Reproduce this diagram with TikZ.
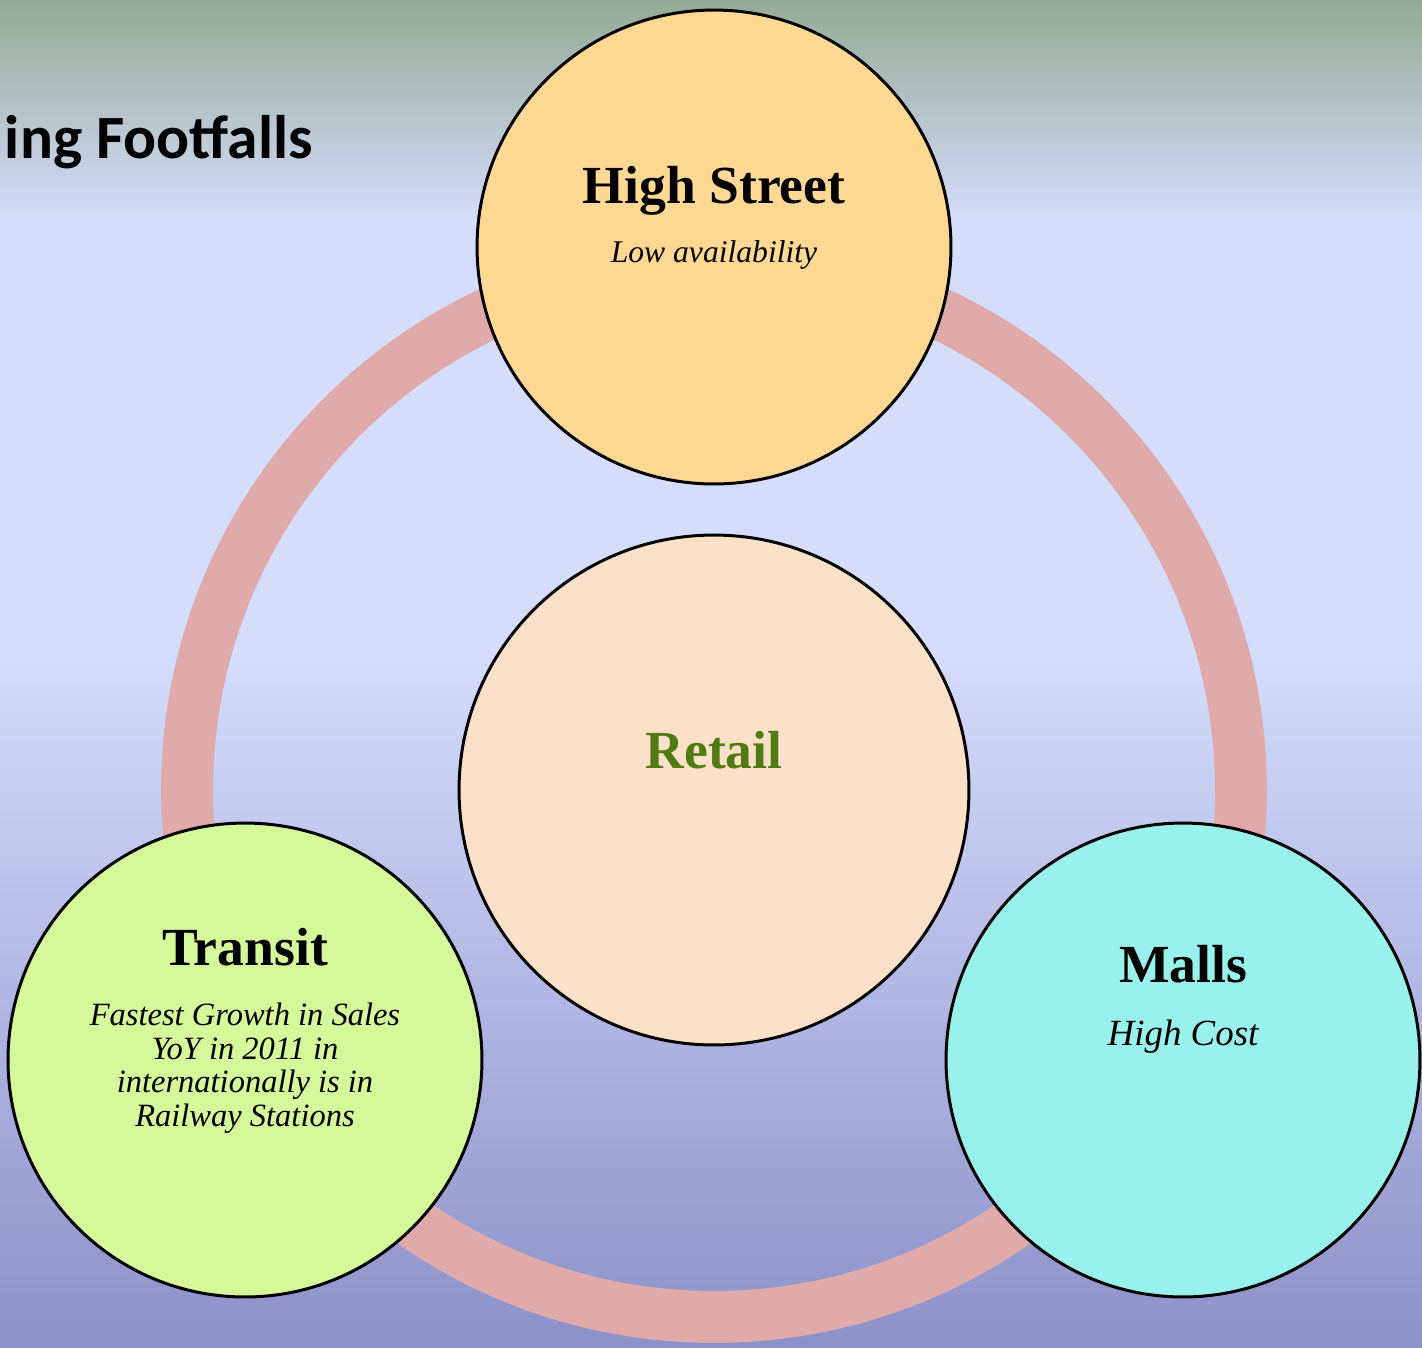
\documentclass[tikz,border=0pt]{standalone}
\usepackage{fontspec}
\setmainfont{Liberation Serif}
\newfontfamily\calibri{Carlito}
\usepackage{tikz}
\usetikzlibrary{positioning,calc}

\definecolor{bgtop}{RGB}{149,170,149}
\definecolor{bgmid}{RGB}{212,221,252}
\definecolor{bgbot}{RGB}{140,145,200}
\definecolor{ringcol}{RGB}{224,170,170}
\definecolor{highcol}{RGB}{255,217,148}
\definecolor{retailcol}{RGB}{252,224,200}
\definecolor{transitcol}{RGB}{212,248,154}
\definecolor{mallcol}{RGB}{152,242,235}
\definecolor{retailtext}{RGB}{80,122,18}

\begin{document}
\begin{tikzpicture}[
    x=0.02cm, y=-0.02cm,
    zone/.style={circle, draw=black, line width=1.7pt, minimum size=9.48cm, inner sep=0pt},
    zonetitle/.style={anchor=base, inner sep=0pt, font=\fontsize{30.5}{34}\selectfont\bfseries},
    zonenote/.style={anchor=base, inner sep=0pt, align=center, font=\fontsize{18}{19.5}\selectfont\itshape}
]
    \useasboundingbox (0,0) rectangle (1422,1347);
    % background
    \shade[top color=bgtop, bottom color=bgmid] (0,0) rectangle (1422,221);
    \fill[bgmid] (0,220) rectangle (1422,651);
    \shade[top color=bgmid, bottom color=bgbot] (0,650) rectangle (1422,1347);

    \node[anchor=base east, inner sep=0pt, font=\calibri\fontsize{35}{40}\selectfont\bfseries] (heading) at (313,158) {ing Footfalls};

    % ring behind the circles
    \draw[ringcol, line width=1.04cm] (714,790) circle[radius=10.54cm];

    \node[zone, fill=highcol] (high) at (714,247) {};
    \node[zone, fill=retailcol, minimum size=10.2cm] (retail) at (714,790) {};
    \node[zone, fill=transitcol] (transit) at (245,1060) {};
    \node[zone, fill=mallcol] (malls) at (1183,1060) {};

    \node[zonetitle] (hightitle) at (714,203) {High Street};
    \node[zonenote] (highnote) at (714,262) {Low availability};

    \node[zonetitle, text=retailtext] (retailtitle) at (714,768) {Retail};

    \node[zonetitle] (transittitle) at (245,965) {Transit};
    \node[zonenote, anchor=north, font=\fontsize{18.5}{19}\selectfont\itshape] (transitnote) at (245,1003)
        {Fastest Growth in Sales\\YoY in 2011 in\\internationally is in\\Railway Stations};

    \node[zonetitle] (mallstitle) at (1183,982) {Malls};
    \node[zonenote, font=\fontsize{21}{23}\selectfont\itshape] (mallsnote) at (1183,1045) {High Cost};
\end{tikzpicture}
\end{document}
